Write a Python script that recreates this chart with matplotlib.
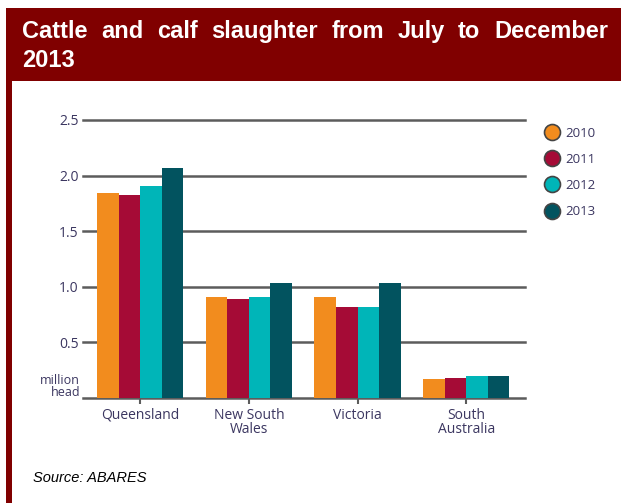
import matplotlib
matplotlib.use("Agg")
import matplotlib.pyplot as plt
from matplotlib.lines import Line2D
from matplotlib.patches import Rectangle
import numpy as np

regions = ["Queensland", "New South\nWales", "Victoria", "South\nAustralia"]
years = ["2010", "2011", "2012", "2013"]
values = {
    "2010": [1.84, 0.91, 0.91, 0.17],
    "2011": [1.825, 0.89, 0.815, 0.183],
    "2012": [1.905, 0.91, 0.815, 0.2],
    "2013": [2.065, 1.035, 1.035, 0.2],
}
colors = ["#F28C1E", "#A50B36", "#00B5B8", "#02535F"]
yticks = [0.5, 1.0, 1.5, 2.0, 2.5]
title_words = "Cattle and calf slaughter from July to December".split()

W, H = 621, 503
fig = plt.figure(figsize=(W / 100, H / 100), dpi=100)
dark_red = "#800000"
label_col = "#3b3660"
grid_col = "#5c5c5c"


def fx(x):
    return x / W


def fy(y):
    return 1 - y / H


# frame: title band and left border
fig.add_artist(Rectangle((fx(6), fy(81)), 1, fy(8) - fy(81), transform=fig.transFigure,
                         color=dark_red, lw=0))
fig.add_artist(Rectangle((fx(6), 0), fx(6), fy(81), transform=fig.transFigure,
                         color=dark_red, lw=0))

# title, justified across the band
tfont = dict(family="Liberation Sans", weight="bold", size=17, color="white")
renderer = fig.canvas.get_renderer()
texts = [fig.text(0, fy(38), w, va="baseline", **tfont) for w in title_words]
widths = [t.get_window_extent(renderer).width for t in texts]
left, right = 22, 608
gap = (right - left - sum(widths)) / (len(widths) - 1)
x = left
for t, w in zip(texts, widths):
    t.set_x(fx(x))
    x += w + gap
fig.text(fx(22), fy(67), "2013", va="baseline", **tfont)

# chart
ax = fig.add_axes([fx(83), fy(398), fx(525 - 83), fy(120) - fy(398)])
xpos = np.arange(len(regions))
bw = 0.198
for i, (yr, c) in enumerate(zip(years, colors)):
    ax.bar(xpos + (i - 1.5) * bw, values[yr], width=bw, color=c, zorder=3, label=yr)

ax.set_xlim(-0.525, 3.54)
ax.set_ylim(0, 2.5)
for v in [0] + yticks:
    ax.axhline(v, color=grid_col, lw=1.8, zorder=1, clip_on=False)
for s in ax.spines.values():
    s.set_visible(False)

ax.set_yticks(yticks)
ax.set_yticklabels(["%.1f" % v for v in yticks])
ax.tick_params(axis="y", length=0, pad=3, labelsize=10, labelcolor=label_col)
ax.set_xticks(xpos)
ax.set_xticklabels(regions, linespacing=0.95)
ax.tick_params(axis="x", length=4, width=1.5, color=grid_col, pad=3,
               labelsize=10, labelcolor=label_col)
for lab in ax.get_xticklabels() + ax.get_yticklabels():
    lab.set_family("Open Sans")

fig.text(fx(80), fy(399), "million\nhead", ha="right", va="bottom", family="Open Sans",
         fontsize=9, color=label_col, linespacing=0.9)

handles = [Line2D([], [], ls="none", marker="o", markersize=11.5, markerfacecolor=c,
                  markeredgecolor="#444444", markeredgewidth=1.2) for c in colors]
fig.legend(handles, years, loc="upper left", bbox_to_anchor=(fx(537), fy(120)),
           frameon=False, handletextpad=0.45, labelspacing=1.0, borderpad=0,
           prop=dict(family="Open Sans", size=9.5), labelcolor=label_col, handlelength=1.2)

fig.text(fx(33), fy(478), "Source: ABARES", va="center", family="Liberation Sans",
         style="italic", fontsize=10.5, color="black")

fig.savefig("out.png", dpi=100)
